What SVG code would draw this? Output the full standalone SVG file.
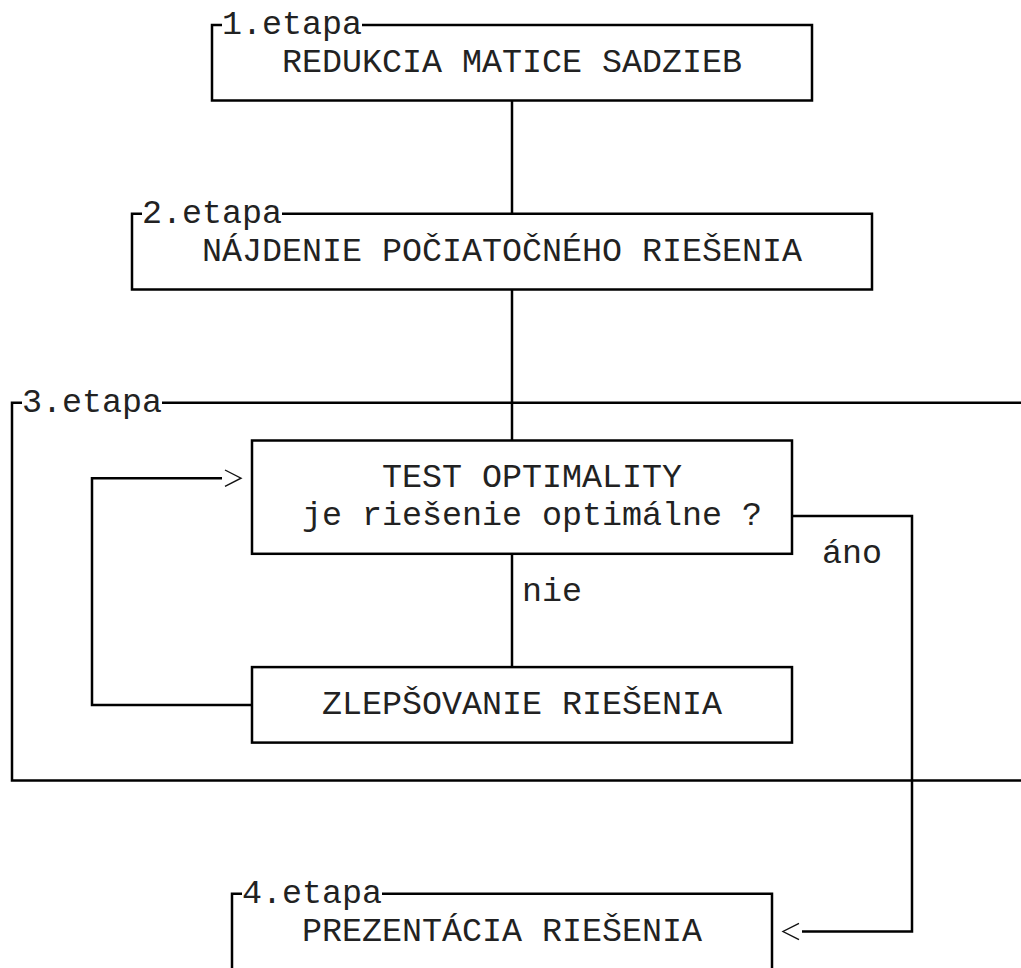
<svg xmlns="http://www.w3.org/2000/svg" width="1021" height="968" viewBox="0 0 1021 968">
<style>
  .frame { fill: none; stroke: #000; stroke-width: 2.5; stroke-linecap: butt; stroke-linejoin: miter; }
  .conn { fill: none; stroke: #000; stroke-width: 2.5; }
  .head { fill: none; stroke: #111; stroke-width: 1.4; stroke-linejoin: miter; }
  .t { font-family: "Liberation Mono", "DejaVu Sans Mono", monospace; font-size: 33.33px; fill: #222; }
</style>
<rect width="1021" height="968" fill="#fff"/>

<g id="stage3">
  <path class="frame" d="M22,402.7 H12 V780.4 H1030 M162,402.7 H1030"/>
  <text class="t" x="22" y="411.7">3.etapa</text>
</g>

<g id="stage1">
  <path class="frame" d="M222,25 H212 V100.5 H812 V25 H362"/>
  <text class="t" x="222" y="34">1.etapa</text>
  <text class="t" x="282" y="71.8">REDUKCIA MATICE SADZIEB</text>
</g>

<g id="stage2">
  <path class="frame" d="M142,213.85 H132 V289.4 H872 V213.85 H282"/>
  <text class="t" x="142" y="222.85">2.etapa</text>
  <text class="t" x="202" y="260.6">NÁJDENIE POČIATOČNÉHO RIEŠENIA</text>
</g>

<g id="test">
  <rect class="frame" x="252" y="440.5" width="540" height="113.3"/>
  <text class="t" x="382" y="487.2">TEST OPTIMALITY</text>
  <text class="t" x="302" y="525">je riešenie optimálne ?</text>
</g>

<g id="improve">
  <rect class="frame" x="252" y="667.1" width="540" height="75.5"/>
  <text class="t" x="322" y="713.9">ZLEPŠOVANIE RIEŠENIA</text>
</g>

<g id="stage4">
  <path class="frame" d="M242,893.7 H232 V975 M382,893.7 H772 V975"/>
  <text class="t" x="242" y="902.7">4.etapa</text>
  <text class="t" x="302" y="940.5">PREZENTÁCIA RIEŠENIA</text>
</g>

<g id="connectors">
  <path class="conn" d="M512,100.5 V213.85"/>
  <path class="conn" d="M512,289.4 V440.5"/>
  <path class="conn" d="M512,553.8 V667.1"/>
  <text class="t" x="522" y="600.6">nie</text>
  <path class="conn" d="M252,704.9 H92 V478.2 H222"/>
  <path class="head" d="M225,470 L241,478.2 L225,486.4"/>
  <path class="conn" d="M792,516 H912 V931.5 H802"/>
  <path class="head" d="M799,923.3 L783,931.5 L799,939.7"/>
  <text class="t" x="822" y="562.8">áno</text>
</g>
</svg>
